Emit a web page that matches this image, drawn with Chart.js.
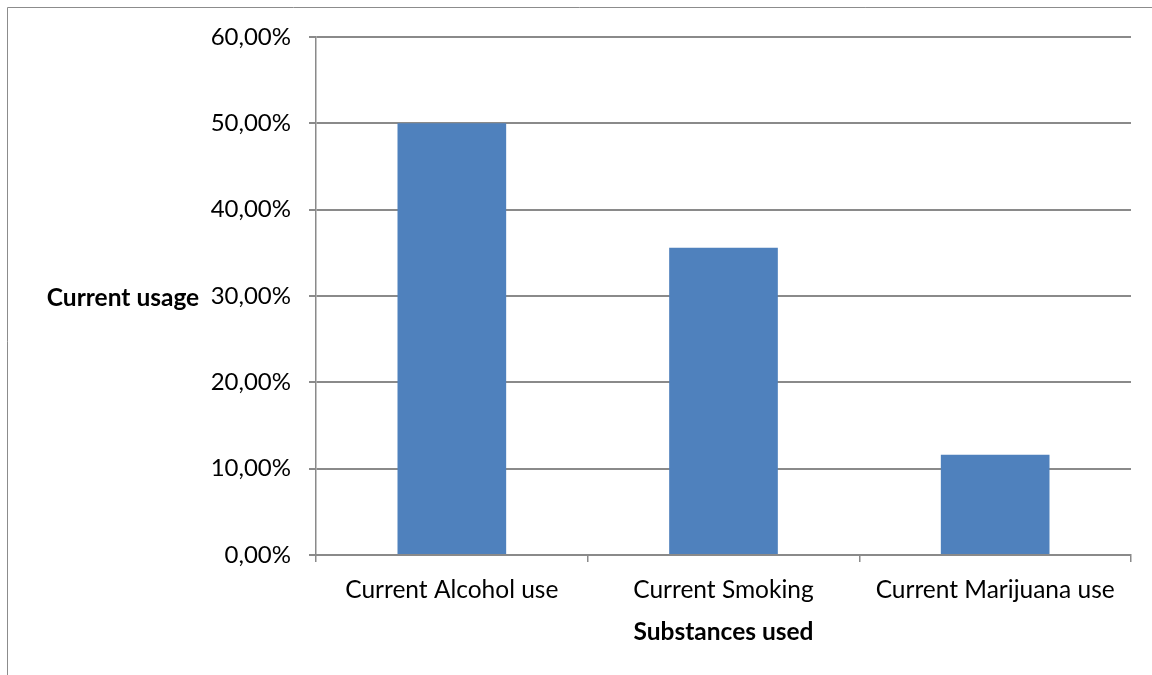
<!DOCTYPE html>
<html>
<head>
<meta charset="utf-8">
<script src="https://cdn.jsdelivr.net/npm/chart.js@4.4.1/dist/chart.umd.min.js"></script>
<style>
  html, body { margin: 0; padding: 0; background: #ffffff; }
  #wrap { position: relative; width: 1152px; height: 675px; }
</style>
</head>
<body>
<div id="wrap"><canvas id="c" width="1152" height="675"></canvas></div>
<script>
const categories = ['Current Alcohol use', 'Current Smoking', 'Current Marijuana use'];
const usageValues = [50.0, 35.6, 11.6];
const yTickValues = [0, 10, 20, 30, 40, 50, 60];
const xTitle = 'Substances used';
const yTitle = 'Current usage';

const GRID = '#8a8a8a';
const FONT = 'Lato, Carlito, Calibri, sans-serif';

const framePlugin = {
  id: 'frame',
  beforeDraw(chart) {
    const ctx = chart.ctx;
    ctx.save();
    ctx.fillStyle = '#ffffff';
    ctx.fillRect(0, 0, chart.width, chart.height);
    ctx.strokeStyle = '#8c8c8c';
    ctx.lineWidth = 1;
    ctx.beginPath();
    ctx.moveTo(7.5, chart.height);
    ctx.lineTo(7.5, 7.5);
    ctx.lineTo(chart.width, 7.5);
    ctx.stroke();
    ctx.restore();
  },
  afterDraw(chart) {
    const ctx = chart.ctx;
    const y = chart.scales.y;
    ctx.save();
    ctx.font = 'bold 24.5px ' + FONT;
    ctx.fillStyle = '#000000';
    ctx.textAlign = 'center';
    ctx.textBaseline = 'middle';
    ctx.fillText(yTitle, 123, y.getPixelForValue(30) + 2);
    ctx.restore();
  }
};

new Chart(document.getElementById('c'), {
  type: 'bar',
  data: {
    labels: categories,
    datasets: [{
      data: usageValues,
      backgroundColor: '#4f81bd',
      borderWidth: 0,
      barPercentage: 0.4,
      categoryPercentage: 1.0
    }]
  },
  options: {
    responsive: false,
    animation: false,
    devicePixelRatio: 1,
    layout: { padding: { left: 0, right: 21, top: 37, bottom: 0 } },
    plugins: {
      legend: { display: false },
      tooltip: { enabled: false }
    },
    scales: {
      x: {
        grid: {
          display: true,
          drawOnChartArea: false,
          drawTicks: true,
          tickLength: 7,
          color: GRID,
          lineWidth: 1.5,
          offset: true
        },
        border: { display: true, color: GRID, width: 2 },
        ticks: {
          color: '#000000',
          font: { family: FONT, size: 24.5 },
          padding: 13,
          maxRotation: 0,
          autoSkip: false
        },
        title: {
          display: true,
          text: xTitle,
          color: '#000000',
          font: { family: FONT, size: 24.5, weight: 'bold' },
          padding: { top: 0, bottom: 28 }
        },
        afterFit(scale) { scale.height = 120; }
      },
      y: {
        min: 0,
        max: 60,
        afterBuildTicks(scale) { scale.ticks = yTickValues.map(v => ({ value: v })); },
        grid: {
          color: GRID,
          lineWidth: 2,
          drawTicks: true,
          tickLength: 7
        },
        border: { display: true, color: GRID, width: 1.5 },
        ticks: {
          color: '#000000',
          font: { family: FONT, size: 24 },
          padding: 18,
          callback: (v) => v.toFixed(2).replace('.', ',') + '%'
        },
        afterFit(scale) { scale.width = 316; }
      }
    }
  },
  plugins: [framePlugin]
});
</script>
</body>
</html>
